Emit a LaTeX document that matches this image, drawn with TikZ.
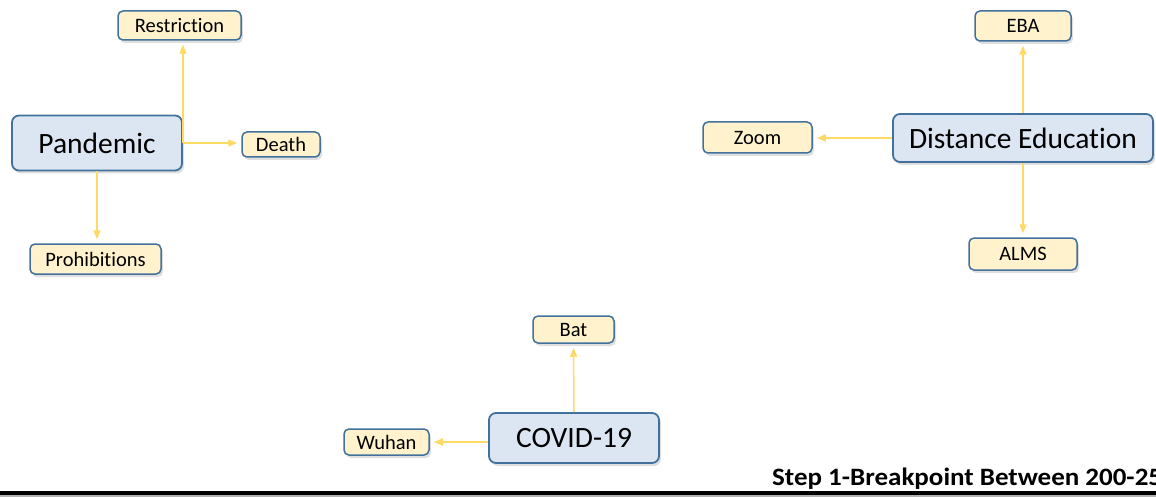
\documentclass[tikz,border=0pt]{standalone}
\usepackage{fontspec}
\setmainfont{Carlito}[Ligatures=NoCommon]
\usetikzlibrary{arrows.meta,shadows}

\definecolor{topicfill}{HTML}{DCE6F2}
\definecolor{topicline}{HTML}{41719C}
\definecolor{leaffill}{HTML}{FFF2CC}
\definecolor{linkcol}{HTML}{FFD966}

\tikzset{
  boxshadow/.style={drop shadow={shadow xshift=2pt, shadow yshift=-3pt, opacity=0.25}},
  topic/.style={draw=topicline, fill=topicfill, line width=1.8pt, rounded corners=7pt,
    boxshadow, inner sep=0pt, font=\fontsize{29.5}{34}\selectfont},
  leaf/.style={draw=topicline, fill=leaffill, line width=1.5pt, rounded corners=5pt,
    boxshadow, inner sep=0pt, font=\fontsize{20.5}{24}\selectfont},
  link/.style={draw=linkcol, line width=1.5pt, shorten >=4pt, -{Triangle[length=9pt,width=7pt]}}
}

\begin{document}
\begin{tikzpicture}[x=1pt, y=1pt]
  \useasboundingbox (0,0) rectangle (1156,-497);

  % Pandemic
  \node[topic, minimum width=170pt, minimum height=55pt] (pan) at (97,-143) {Pandemic};
  \node[leaf, minimum width=123pt, minimum height=29pt] (res) at (179.5,-25.5) {Restriction};
  \node[leaf, minimum width=78pt, minimum height=25pt] (dea) at (281,-144.5) {Death};
  \node[leaf, minimum width=131pt, minimum height=30pt] (pro) at (95.5,-259) {Prohibitions};
  \draw[link] (pan.east) -- (pan.east |- res.south);
  \draw[link] (pan.east) -- (pan.east -| dea.west);
  \draw[link] (pan.south) -- (pan.south |- pro.north);

  % Distance Education
  \node[topic, minimum width=260pt, minimum height=48pt] (dis) at (1023,-138) {Distance Education};
  \node[leaf, minimum width=96pt, minimum height=30pt] (eba) at (1023,-26) {EBA};
  \node[leaf, minimum width=109pt, minimum height=31pt] (zoo) at (757.5,-137.5) {Zoom};
  \node[leaf, minimum width=108pt, minimum height=32pt] (alm) at (1023,-254) {ALMS};
  \draw[link] (dis.north) -- (eba.south);
  \draw[link] (dis.west) -- (dis.west -| zoo.east);
  \draw[link] (dis.south) -- (alm.north);

  % COVID-19
  \node[topic, minimum width=170pt, minimum height=50pt] (cov) at (574,-438) {COVID-19};
  \node[leaf, minimum width=81pt, minimum height=27pt] (bat) at (573.5,-329.5) {Bat};
  \node[leaf, minimum width=85pt, minimum height=26pt] (wuh) at (386.5,-442) {Wuhan};
  \draw[link] (cov.north) -- (bat.south);
  \draw[link] (cov.west |- wuh.east) -- (wuh.east);

  % footer
  \node[anchor=base west, inner sep=0pt, xscale=1.08, font=\bfseries\fontsize{25}{29}\selectfont] (step) at (772,-485)
    {Step 1-Breakpoint Between 200-25};
  \draw[line width=4pt] (0,-493) -- (1156,-493);
  \draw[gray!60, line width=2pt] (0,-496) -- (1156,-496);
\end{tikzpicture}
\end{document}
